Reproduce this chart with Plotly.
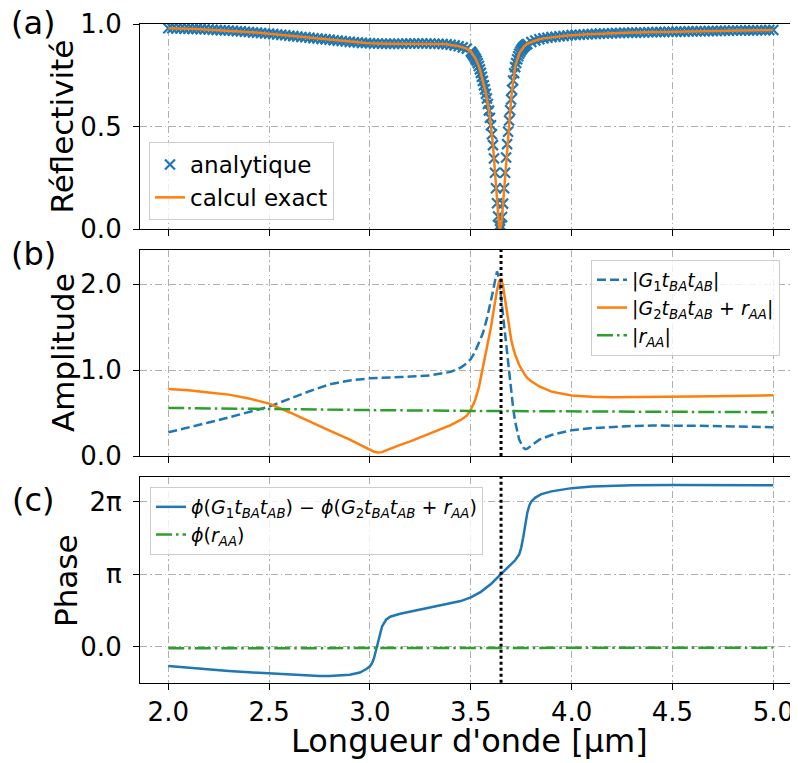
import plotly.graph_objects as go
from plotly.subplots import make_subplots
import math

# ---------------- data ----------------
# (a) reflectivity
refl_x = [
    2.00, 2.02, 2.04, 2.06, 2.08, 2.10, 2.12, 2.14, 2.16, 2.18,
    2.20, 2.22, 2.24, 2.26, 2.28, 2.30, 2.32, 2.34, 2.36, 2.38,
    2.40, 2.42, 2.44, 2.46, 2.48, 2.50, 2.52, 2.54, 2.56, 2.58,
    2.60, 2.62, 2.64, 2.66, 2.68, 2.70, 2.72, 2.74, 2.76, 2.78,
    2.80, 2.82, 2.84, 2.86, 2.88, 2.90, 2.92, 2.94, 2.96, 2.98,
    3.00, 3.02, 3.04, 3.06, 3.08, 3.10, 3.12, 3.14, 3.16, 3.18,
    3.20, 3.22, 3.24, 3.26, 3.28, 3.30, 3.32, 3.34, 3.36, 3.38,
    3.40, 3.42, 3.44, 3.46, 3.48, 3.50,
    3.505, 3.510, 3.515, 3.520, 3.525, 3.530, 3.535, 3.540, 3.545, 3.550,
    3.555, 3.560, 3.565, 3.570, 3.575, 3.580, 3.585, 3.590, 3.595, 3.600,
    3.605, 3.610, 3.615, 3.620, 3.625, 3.630, 3.635, 3.640, 3.645, 3.650,
    3.655, 3.660, 3.665, 3.670, 3.675, 3.680, 3.685, 3.690, 3.695, 3.700,
    3.705, 3.710, 3.715, 3.720, 3.725, 3.730, 3.735, 3.740, 3.745, 3.750,
    3.755, 3.760, 3.765, 3.770, 3.775,
    3.78, 3.80, 3.82, 3.84, 3.86, 3.88, 3.90, 3.92, 3.94, 3.96,
    3.98, 4.00, 4.02, 4.04, 4.06, 4.08, 4.10, 4.12, 4.14, 4.16,
    4.18, 4.20, 4.22, 4.24, 4.26, 4.28, 4.30, 4.32, 4.34, 4.36,
    4.38, 4.40, 4.42, 4.44, 4.46, 4.48, 4.50, 4.52, 4.54, 4.56,
    4.58, 4.60, 4.62, 4.64, 4.66, 4.68, 4.70, 4.72, 4.74, 4.76,
    4.78, 4.80, 4.82, 4.84, 4.86, 4.88, 4.90, 4.92, 4.94, 4.96,
    4.98, 5.00,
]
refl_analytique = [
    0.979, 0.979, 0.978, 0.978, 0.977, 0.977, 0.976, 0.976, 0.975, 0.974,
    0.973, 0.972, 0.971, 0.970, 0.969, 0.968, 0.967, 0.965, 0.964, 0.962,
    0.961, 0.959, 0.958, 0.956, 0.954, 0.953, 0.951, 0.949, 0.947, 0.945,
    0.943, 0.941, 0.939, 0.937, 0.935, 0.933, 0.931, 0.929, 0.927, 0.925,
    0.923, 0.921, 0.919, 0.917, 0.915, 0.913, 0.911, 0.910, 0.908, 0.907,
    0.906, 0.905, 0.905, 0.904, 0.904, 0.904, 0.904, 0.904, 0.904, 0.905,
    0.905, 0.905, 0.905, 0.905, 0.905, 0.905, 0.904, 0.904, 0.903, 0.901,
    0.899, 0.896, 0.892, 0.886, 0.880, 0.866,
    0.860, 0.852, 0.845, 0.837, 0.829, 0.820, 0.809, 0.795, 0.779, 0.762,
    0.743, 0.723, 0.702, 0.682, 0.660, 0.637, 0.610, 0.578, 0.543, 0.507,
    0.463, 0.410, 0.345, 0.275, 0.200, 0.127, 0.062, 0.017, 0.000, 0.017,
    0.060, 0.125, 0.200, 0.275, 0.350, 0.415, 0.475, 0.530, 0.580, 0.632,
    0.680, 0.725, 0.760, 0.790, 0.810, 0.828, 0.843, 0.855, 0.865, 0.873,
    0.880, 0.886, 0.891, 0.896, 0.900,
    0.903, 0.912, 0.920, 0.926, 0.930, 0.933, 0.936, 0.938, 0.940, 0.942,
    0.944, 0.946, 0.947, 0.948, 0.949, 0.950, 0.951, 0.952, 0.953, 0.954,
    0.954, 0.955, 0.956, 0.956, 0.957, 0.957, 0.958, 0.958, 0.959, 0.959,
    0.960, 0.960, 0.961, 0.961, 0.961, 0.962, 0.962, 0.963, 0.963, 0.963,
    0.964, 0.964, 0.965, 0.965, 0.965, 0.966, 0.966, 0.966, 0.967, 0.967,
    0.967, 0.968, 0.968, 0.968, 0.969, 0.969, 0.969, 0.970, 0.970, 0.970,
    0.971, 0.971,
]
refl_exact = list(refl_analytique)

# (b) amplitudes
amp_x = [
    2.0, 2.1, 2.2, 2.3, 2.4, 2.5, 2.6, 2.7, 2.8, 2.9,
    3.0, 3.02, 3.04, 3.06, 3.08, 3.1, 3.15, 3.2, 3.3, 3.4,
    3.45, 3.48, 3.5, 3.52, 3.54, 3.56, 3.58, 3.6, 3.61, 3.62,
    3.63, 3.64, 3.65, 3.66, 3.67, 3.68, 3.69, 3.7, 3.71, 3.72,
    3.74, 3.76, 3.77, 3.78, 3.8, 3.84, 3.9, 4.0, 4.1, 4.2,
    4.3, 4.4, 4.5, 4.6, 4.7, 4.8, 4.9, 5.0,
]
amp_G1 = [
    0.276, 0.33, 0.39, 0.45, 0.51, 0.575, 0.665, 0.755, 0.835, 0.88,
    0.905, 0.908, 0.91, 0.912, 0.914, 0.916, 0.92, 0.925, 0.94, 0.98,
    1.03, 1.08, 1.13, 1.21, 1.31, 1.43, 1.60, 1.80, 1.92, 2.04,
    2.15, 2.07, 1.85, 1.62, 1.38, 1.16, 0.95, 0.75, 0.56, 0.40,
    0.19, 0.10, 0.08, 0.085, 0.12, 0.19, 0.245, 0.30, 0.325, 0.34,
    0.35, 0.355, 0.355, 0.353, 0.35, 0.345, 0.34, 0.335,
]
amp_G2 = [
    0.78, 0.765, 0.74, 0.715, 0.67, 0.61, 0.51, 0.40, 0.295, 0.19,
    0.08, 0.05, 0.04, 0.045, 0.065, 0.085, 0.13, 0.17, 0.265, 0.36,
    0.42, 0.47, 0.54, 0.64, 0.80, 1.02, 1.25, 1.50, 1.65, 1.80,
    1.93, 2.03, 2.07, 1.98, 1.82, 1.64, 1.48, 1.36, 1.26, 1.18,
    1.06, 0.97, 0.94, 0.91, 0.87, 0.81, 0.75, 0.705, 0.69, 0.685,
    0.685, 0.687, 0.69, 0.693, 0.697, 0.70, 0.703, 0.707,
]
amp_rAA_x = [2.0, 2.5, 3.0, 3.5, 4.0, 4.5, 5.0]
amp_rAA = [0.56, 0.545, 0.535, 0.525, 0.52, 0.515, 0.51]

# (c) phases (rad)
phase_x = [
    2.0, 2.1, 2.2, 2.3, 2.4, 2.5, 2.6, 2.7, 2.75, 2.8,
    2.85, 2.9, 2.95, 2.98, 3.0, 3.01, 3.02, 3.03, 3.04, 3.05,
    3.06, 3.08, 3.1, 3.15, 3.2, 3.3, 3.4, 3.45, 3.5, 3.55,
    3.6, 3.65, 3.7, 3.72, 3.74, 3.75, 3.76, 3.77, 3.78, 3.79,
    3.8, 3.82, 3.85, 3.9, 4.0, 4.1, 4.2, 4.3, 4.5, 4.7,
    5.0,
]
phase_diff = [
    -0.84, -0.92, -0.99, -1.05, -1.11, -1.16, -1.21, -1.25, -1.27, -1.27,
    -1.26, -1.22, -1.12, -0.98, -0.85, -0.72, -0.5, -0.15, 0.25, 0.6,
    0.88, 1.17, 1.3, 1.43, 1.52, 1.68, 1.86, 1.98, 2.14, 2.38,
    2.72, 3.14, 3.55, 3.75, 4.0, 4.3, 4.75, 5.3, 5.8, 6.12,
    6.3, 6.47, 6.62, 6.74, 6.88, 6.95, 6.98, 7.0, 7.02, 7.02,
    7.0,
]
phase_rAA_x = [2.0, 3.0, 4.0, 5.0]
phase_rAA = [-0.07, -0.06, -0.05, -0.04]

resonance_x = 3.65

x_ticks = [2.0, 2.5, 3.0, 3.5, 4.0, 4.5, 5.0]
x_ticktext = ["2.0", "2.5", "3.0", "3.5", "4.0", "4.5", "5.0"]
refl_ticks = [0.0, 0.5, 1.0]
refl_ticktext = ["0.0", "0.5", "1.0"]
amp_ticks = [0.0, 1.0, 2.0]
amp_ticktext = ["0.0", "1.0", "2.0"]
phase_ticks = [0.0, math.pi, 2 * math.pi]
phase_ticktext = ["0.0", "π", "2π"]

# ---------------- styles ----------------
BLUE = "#1f77b4"
ORANGE = "#ff7f0e"
GREEN = "#2ca02c"
FONT = "DejaVu Sans"
DASHDOT = "16px,4px,2.5px,4px"

fig = make_subplots(rows=3, cols=1, shared_xaxes=True, vertical_spacing=0.02)

# (a)
fig.add_trace(go.Scatter(
    x=refl_x, y=refl_analytique, mode="markers", name="analytique",
    marker=dict(symbol="x-thin", size=10, color=BLUE, line=dict(width=2.2, color=BLUE)),
    legend="legend"), row=1, col=1)
fig.add_trace(go.Scatter(
    x=refl_x, y=refl_exact, mode="lines", name="calcul exact",
    line=dict(color=ORANGE, width=2.5), legend="legend"), row=1, col=1)

# (b)
fig.add_trace(go.Scatter(
    x=amp_x, y=amp_G1, mode="lines",
    name="|<i>G</i><sub>1</sub><i>t</i><sub><i>BA</i></sub><i>t</i><sub><i>AB</i></sub>|",
    line=dict(color=BLUE, width=2.5, dash="9px,4px"), legend="legend2"), row=2, col=1)
fig.add_trace(go.Scatter(
    x=amp_x, y=amp_G2, mode="lines",
    name="|<i>G</i><sub>2</sub><i>t</i><sub><i>BA</i></sub><i>t</i><sub><i>AB</i></sub> + <i>r</i><sub><i>AA</i></sub>|",
    line=dict(color=ORANGE, width=2.5), legend="legend2"), row=2, col=1)
fig.add_trace(go.Scatter(
    x=amp_rAA_x, y=amp_rAA, mode="lines",
    name="|<i>r</i><sub><i>AA</i></sub>|",
    line=dict(color=GREEN, width=2.5, dash=DASHDOT), legend="legend2"), row=2, col=1)

# (c)
fig.add_trace(go.Scatter(
    x=phase_x, y=phase_diff, mode="lines",
    name="<i>ϕ</i>(<i>G</i><sub>1</sub><i>t</i><sub><i>BA</i></sub><i>t</i><sub><i>AB</i></sub>) − "
         "<i>ϕ</i>(<i>G</i><sub>2</sub><i>t</i><sub><i>BA</i></sub><i>t</i><sub><i>AB</i></sub> + <i>r</i><sub><i>AA</i></sub>)",
    line=dict(color=BLUE, width=2.5), legend="legend3"), row=3, col=1)
fig.add_trace(go.Scatter(
    x=phase_rAA_x, y=phase_rAA, mode="lines",
    name="<i>ϕ</i>(<i>r</i><sub><i>AA</i></sub>)",
    line=dict(color=GREEN, width=2.5, dash=DASHDOT), legend="legend3"), row=3, col=1)

# vertical dotted resonance line in (b) and (c)
for xr, yr in (("x2", "y2 domain"), ("x3", "y3 domain")):
    fig.add_shape(type="line", xref=xr, yref=yr, x0=resonance_x, x1=resonance_x, y0=0, y1=1,
                  line=dict(color="black", width=3, dash="3px,3px"))

# page body has an 8px margin: the figure is drawn 8px right/down of the window corner
OFF = 8
W, H = 798 - OFF, 763 - OFF
L = 140 - OFF
XR = [1.8597, 5.1225]


def px_x(px):
    return (px - OFF - L) / (W - L)


def px_y(py):
    return 1 - (py - OFF) / H


def ydom(top_px, bot_px):
    return [px_y(bot_px), px_y(top_px)]


common = dict(showline=True, linecolor="black", linewidth=1.2, ticks="outside", ticklen=6,
              tickwidth=1.2, tickcolor="black", showgrid=True, gridcolor="#b0b0b0", gridwidth=1,
              griddash="7px,3px,1.5px,3px", zeroline=False, automargin=False,
              tickfont=dict(family=FONT, size=26, color="black"))

for i, show in ((1, False), (2, False), (3, True)):
    fig.update_layout(**{("xaxis" if i == 1 else f"xaxis{i}"): dict(
        common, range=XR, domain=[0, 1], tickvals=x_ticks, ticktext=x_ticktext,
        showticklabels=show, mirror=True)})

fig.update_layout(
    yaxis=dict(common, range=[0, 1.0], domain=ydom(24, 229.3), tickvals=refl_ticks,
               ticktext=refl_ticktext, ticklabelstandoff=6),
    yaxis2=dict(common, range=[0, 2.40], domain=ydom(250, 456), tickvals=amp_ticks,
                ticktext=amp_ticktext, ticklabelstandoff=6),
    yaxis3=dict(common, range=[-1.562, 7.376], domain=ydom(476.7, 682.7), tickvals=phase_ticks,
                ticktext=phase_ticktext, ticklabelstandoff=6),
)

legend_common = dict(bgcolor="rgba(255,255,255,0.8)", bordercolor="#cccccc", borderwidth=1)

fig.update_layout(
    width=W, height=H,
    margin=dict(l=L, r=0, t=0, b=0, autoexpand=False),
    paper_bgcolor="white", plot_bgcolor="white",
    font=dict(family=FONT, color="black"),
    legend=dict(legend_common, x=px_x(149), y=px_y(220), xanchor="left", yanchor="bottom",
                font=dict(family=FONT, size=23, color="black")),
    legend2=dict(legend_common, x=px_x(591), y=px_y(260), xanchor="left", yanchor="top",
                 font=dict(family=FONT, size=19, color="black")),
    legend3=dict(legend_common, x=px_x(150), y=px_y(487), xanchor="left", yanchor="top",
                 font=dict(family=FONT, size=19, color="black")),
)

annots = [
    ("Réflectivité", 61, 126.5, -90, 31),
    ("Amplitude", 63, 353, -90, 31),
    ("Phase", 66, 581, -90, 31),
    ("(a)", 33, 23, 0, 32),
    ("(b)", 33, 254, 0, 32),
    ("(c)", 33, 500, 0, 32),
    ("Longueur d'onde [µm]", 469, 741, 0, 32),
]
for text, ax, ay, ang, fs in annots:
    fig.add_annotation(text=text, xref="paper", yref="paper", x=px_x(ax), y=px_y(ay),
                       xanchor="center", yanchor="middle", showarrow=False, textangle=ang,
                       font=dict(family=FONT, size=fs, color="black"))

fig.write_html("out.html")
